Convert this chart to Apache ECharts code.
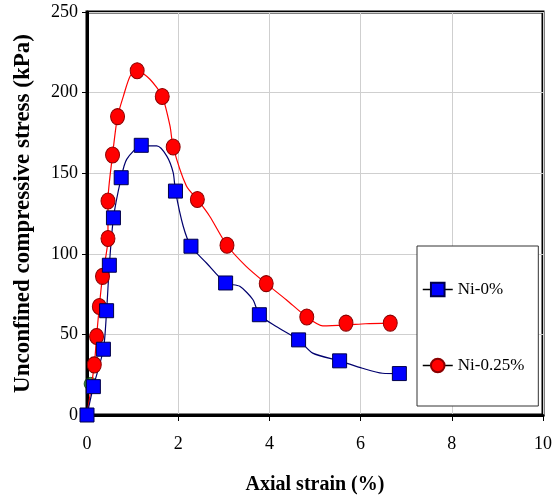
<!DOCTYPE html>
<html>
<head>
<meta charset="utf-8">
<script src="https://cdn.jsdelivr.net/npm/echarts@6/dist/echarts.min.js"></script>
<style>
  html, body { margin: 0; padding: 0; background: #fff; }
  #main { width: 555px; height: 504px; }
</style>
</head>
<body>
<div id="main"></div>
<script>
// 标记点 (markers) - Ni-0%
var ni0MarkX = [0, 0.14, 0.36, 0.43, 0.49, 0.58, 0.75, 1.19, 1.94, 2.28, 3.04, 3.78, 4.64, 5.54, 6.85];
var ni0MarkY = [0, 17.6, 40.8, 64.7, 92.9, 122.3, 147.2, 167.3, 138.9, 104.7, 81.9, 62.2, 46.6, 33.6, 25.7];
// 标记点 - Ni-0.25%
var ni25MarkX = [0.16, 0.21, 0.27, 0.34, 0.46, 0.46, 0.56, 0.67, 1.10, 1.65, 1.89, 2.42, 3.07, 3.93, 4.82, 5.68, 6.65];
var ni25MarkY = [31.1, 48.7, 67.3, 86, 109.5, 132.7, 161.3, 185.1, 213.5, 197.6, 166.2, 133.7, 105.3, 81.5, 60.8, 57, 57];
// 曲线 (measured curves)
var ni0CurveX = [0, 0.14, 0.36, 0.43, 0.49, 0.58, 0.75, 0.87, 1.19, 1.53, 1.75, 1.89, 1.94, 2.11, 2.28, 2.62, 3.04, 3.35, 3.64, 3.78, 4.15, 4.64, 4.95, 5.54, 6.04, 6.48, 6.85];
var ni0CurveY = [0, 17.6, 40.8, 64.7, 92.9, 122.3, 147.2, 158.6, 166.9, 166.9, 160.6, 150.3, 138.9, 117.1, 104.7, 94.3, 81.9, 79.8, 71.5, 62.2, 54.9, 46.6, 38.4, 33.6, 29, 25.9, 25.7];
var ni25CurveX = [0, 0.16, 0.21, 0.27, 0.34, 0.46, 0.46, 0.56, 0.67, 0.80, 0.95, 1.10, 1.38, 1.65, 1.82, 1.89, 2.18, 2.42, 2.69, 3.07, 3.49, 3.93, 4.37, 4.82, 5.17, 5.68, 6.11, 6.65];
var ni25CurveY = [0, 31.1, 48.7, 67.3, 86, 109.5, 132.7, 161.3, 185.1, 198, 210.4, 213.5, 208.3, 197.6, 179.3, 166.2, 142, 133.7, 123.3, 105.3, 92.2, 81.5, 71.5, 60.8, 55.3, 55.8, 56.6, 57];
// 绿色点 (partly hidden third set)
var greenX = [0, 0.08];
var greenY = [0, 19.3];

function pairs(xs, ys) {
    return xs.map(function (x, i) { return [x, ys[i]]; });
}

var chart = echarts.init(document.getElementById('main'));
var serif = 'Liberation Serif';

chart.setOption({
    backgroundColor: '#fff',
    animation: false,
    grid: {
        left: 87, right: 10, top: 12, bottom: 89,
        show: true, borderColor: '#000', borderWidth: 3
    },
    legend: {
        orient: 'vertical',
        left: 417, top: 246,
        padding: [35, 14, 32, 5],
        itemGap: 59,
        itemWidth: 30, itemHeight: 17,
        borderColor: '#333', borderWidth: 1,
        backgroundColor: '#fff',
        textStyle: { fontFamily: serif, fontSize: 17, color: '#000' },
        data: [
            { name: 'Ni-0%', lineStyle: { color: '#000', width: 1.5, opacity: 1 } },
            { name: 'Ni-0.25%', lineStyle: { color: '#000', width: 1.5, opacity: 1 } }
        ]
    },
    xAxis: {
        type: 'value', min: 0, max: 10, interval: 2,
        name: 'Axial strain (%)',
        nameLocation: 'middle', nameGap: 60,
        nameTextStyle: { fontFamily: serif, fontSize: 20, fontWeight: 'bold', color: '#000' },
        axisLine: { onZero: false, lineStyle: { color: '#000', width: 3 } },
        axisTick: { show: true, length: 6, lineStyle: { color: '#000' } },
        axisLabel: { margin: 20, fontFamily: serif, fontSize: 18, color: '#000' },
        splitLine: { lineStyle: { color: '#cfcfcf', width: 1 } }
    },
    yAxis: {
        type: 'value', min: 0, max: 250, interval: 50,
        name: 'Unconfined compressive stress (kPa)',
        nameLocation: 'middle', nameGap: 52,
        nameTextStyle: { fontFamily: serif, fontSize: 23, fontWeight: 'bold', color: '#000' },
        axisLine: { onZero: false, lineStyle: { color: '#000', width: 3 } },
        axisTick: { show: true, length: 5, lineStyle: { color: '#000' } },
        axisLabel: { margin: 9, fontFamily: serif, fontSize: 18, color: '#000' },
        splitLine: { lineStyle: { color: '#cfcfcf', width: 1 } }
    },
    series: [
        {
            name: 'green', type: 'scatter',
            data: pairs(greenX, greenY),
            symbol: 'circle', symbolSize: 13,
            itemStyle: { color: '#1f7a1f', borderColor: '#0b3d0b', borderWidth: 1 },
            z: 1
        },
        {
            name: 'Ni-0.25% curve', type: 'line',
            data: pairs(ni25CurveX, ni25CurveY),
            showSymbol: false, smooth: 0.25,
            lineStyle: { color: '#ff0000', width: 1.2 },
            z: 2
        },
        {
            name: 'Ni-0% curve', type: 'line',
            data: pairs(ni0CurveX, ni0CurveY),
            showSymbol: false, smooth: 0.25,
            lineStyle: { color: '#00006e', width: 1.2 },
            z: 2
        },
        {
            name: 'Ni-0.25%', type: 'line',
            data: pairs(ni25MarkX, ni25MarkY),
            symbol: 'circle', symbolSize: [14, 16],
            lineStyle: { width: 0, opacity: 0 },
            itemStyle: { color: '#ff0000', borderColor: '#8a0000', borderWidth: 1 },
            z: 3
        },
        {
            name: 'Ni-0%', type: 'line',
            data: pairs(ni0MarkX, ni0MarkY),
            symbol: 'rect', symbolSize: 14,
            lineStyle: { width: 0, opacity: 0 },
            itemStyle: { color: '#0000ff', borderColor: '#00004a', borderWidth: 1 },
            z: 4
        }
    ]
});
</script>
</body>
</html>
